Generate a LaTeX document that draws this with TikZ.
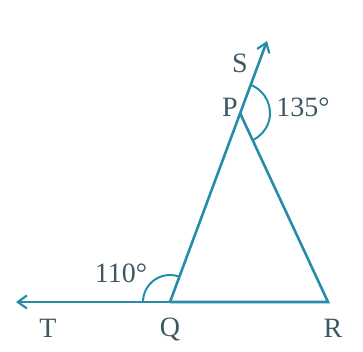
\documentclass[tikz,border=0pt]{standalone}
\usepackage{fontspec}
\setmainfont{Liberation Serif}
\usetikzlibrary{arrows.meta}
\definecolor{ln}{RGB}{38,140,170}
\definecolor{tx}{RGB}{62,88,98}
\begin{document}
\begin{tikzpicture}[x=1pt,y=1pt,
  seg/.style={draw=ln, line width=2.6pt},
  arcline/.style={draw=ln, line width=2pt},
  tip/.style={-{Straight Barb[length=9pt,width=13pt,line width=2.2pt]}},
  lbl/.style={text=tx, font=\fontsize{28}{28}\selectfont, inner sep=0pt}]
\useasboundingbox (0,0) rectangle (363,352);
\coordinate (Q) at (170,50);
\coordinate (R) at (328,50);
\coordinate (P) at (240,239);
\coordinate (S) at (267,311);
\coordinate (T) at (16,50);
\draw[seg] (P) -- (R) -- (Q);
\draw[seg, tip] (Q) -- (S);
\draw[seg, tip] (Q) -- (T);
\draw[arcline] (Q) ++(69.7:27) arc[start angle=69.7, end angle=180, radius=27];
\draw[arcline] (P) ++(69.7:30) arc[start angle=69.7, end angle=-65, radius=30];
\node[lbl] (lS) at (240,289) {S};
\node[lbl] (lP) at (230,245) {P};
\node[lbl] (l135) at (303,245) {135°};
\node[lbl] (l110) at (121,79) {110°};
\node[lbl] (lT) at (48,24) {T};
\node[lbl] (lQ) at (170,22) {Q};
\node[lbl] (lR) at (333,24) {R};
\end{tikzpicture}
\end{document}
